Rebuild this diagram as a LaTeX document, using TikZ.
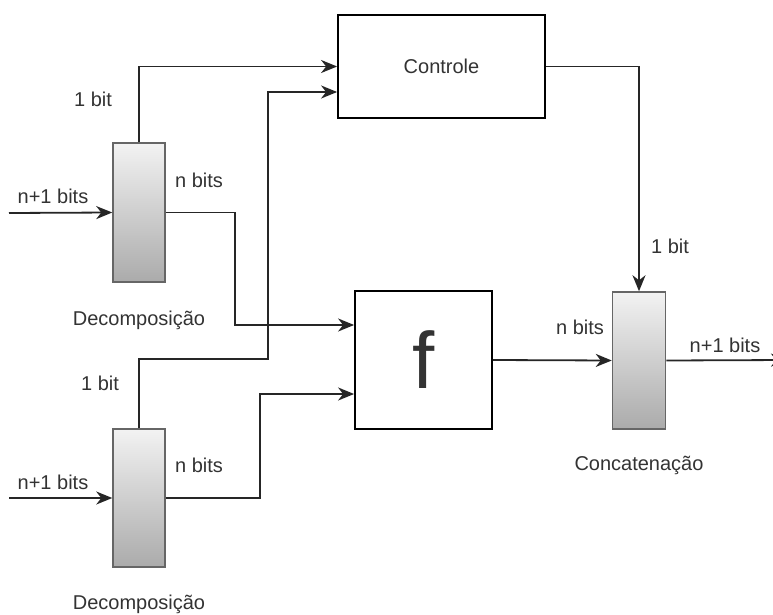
\documentclass[tikz,border=0pt]{standalone}
\usepackage{fontspec}
\setmainfont{Liberation Sans}
\usetikzlibrary{arrows.meta,calc}
\definecolor{txt}{HTML}{333333}
\definecolor{edge}{HTML}{666666}
\begin{document}
\begin{tikzpicture}[x=1pt,y=-1pt,
  every node/.style={font=\fontsize{20}{24}\selectfont, text=txt},
  block/.style={draw=black, line width=1.8pt, rectangle, inner sep=0pt},
  bar/.style={draw=edge, line width=1.5pt, rectangle, inner sep=0pt,
    top color=black!5, bottom color=black!33, minimum width=52pt},
  wire/.style={draw=black!85, line width=1.8pt},
  arr/.style={wire, -{Stealth[length=16pt,width=13pt,inset=5pt]}},
  lbl/.style={inner sep=0pt}]
\clip (0,0) rectangle (773,615);
\fill[white] (0,0) rectangle (773,615);

% blocks
\node[block, minimum width=207pt, minimum height=103pt] (ctl) at (441.5,66.5) {Controle};
\node[block, minimum width=137pt, minimum height=138pt] (f) at (423.5,360)
  {\fontsize{80}{84}\selectfont f};
\node[bar, minimum height=139pt] (d1) at (139,212.5) {};
\node[bar, minimum height=138pt] (d2) at (139,498) {};
\node[bar, minimum width=53pt, minimum height=137pt] (cat) at (639,360.5) {};

% free ends and corners
\coordinate (in1) at (9,213);
\coordinate (in2) at (9,498);
\coordinate (out) at (787,360);
\coordinate (c2a) at (139,359);
\coordinate (c2b) at (268,359);
\coordinate (c1) at (235,212.5);
\coordinate (c3) at (260,498);

% inputs
\draw[arr] (in1) -- (d1.west);
\draw[arr] (in2) -- (d2.west);

% control bits
\draw[arr] (d1.north) |- (ctl.west);
\draw[arr] (d2.north) -- (c2a) -- (c2b) |- ($(ctl.west)+(0,25.5)$);
\draw[arr] (ctl.east) -| (cat.north);

% data paths
\draw[arr] (d1.east) -- (c1) |- ($(f.west)+(0,-35)$);
\draw[arr] (d2.east) -- (c3) |- ($(f.west)+(0,34)$);
\draw[arr] (f.east) -- (cat.west);
\draw[arr] (cat.east) -- (out);

% labels
\node[lbl] (l1) at (93,99) {1 bit};
\node[lbl] (l2) at (199,180) {n bits};
\node[lbl] (l3) at (53,196) {n+1 bits};
\node[lbl] (l4) at (139,320) {Decomposição};
\node[lbl] (l5) at (100,383) {1 bit};
\node[lbl] (l6) at (199,465) {n bits};
\node[lbl] (l7) at (53,482) {n+1 bits};
\node[lbl] (l8) at (139,604) {Decomposição};
\node[lbl] (l9) at (670,246) {1 bit};
\node[lbl] (l10) at (580,327) {n bits};
\node[lbl] (l11) at (725,345) {n+1 bits};
\node[lbl] (l12) at (639,465) {Concatenação};
\end{tikzpicture}
\end{document}
